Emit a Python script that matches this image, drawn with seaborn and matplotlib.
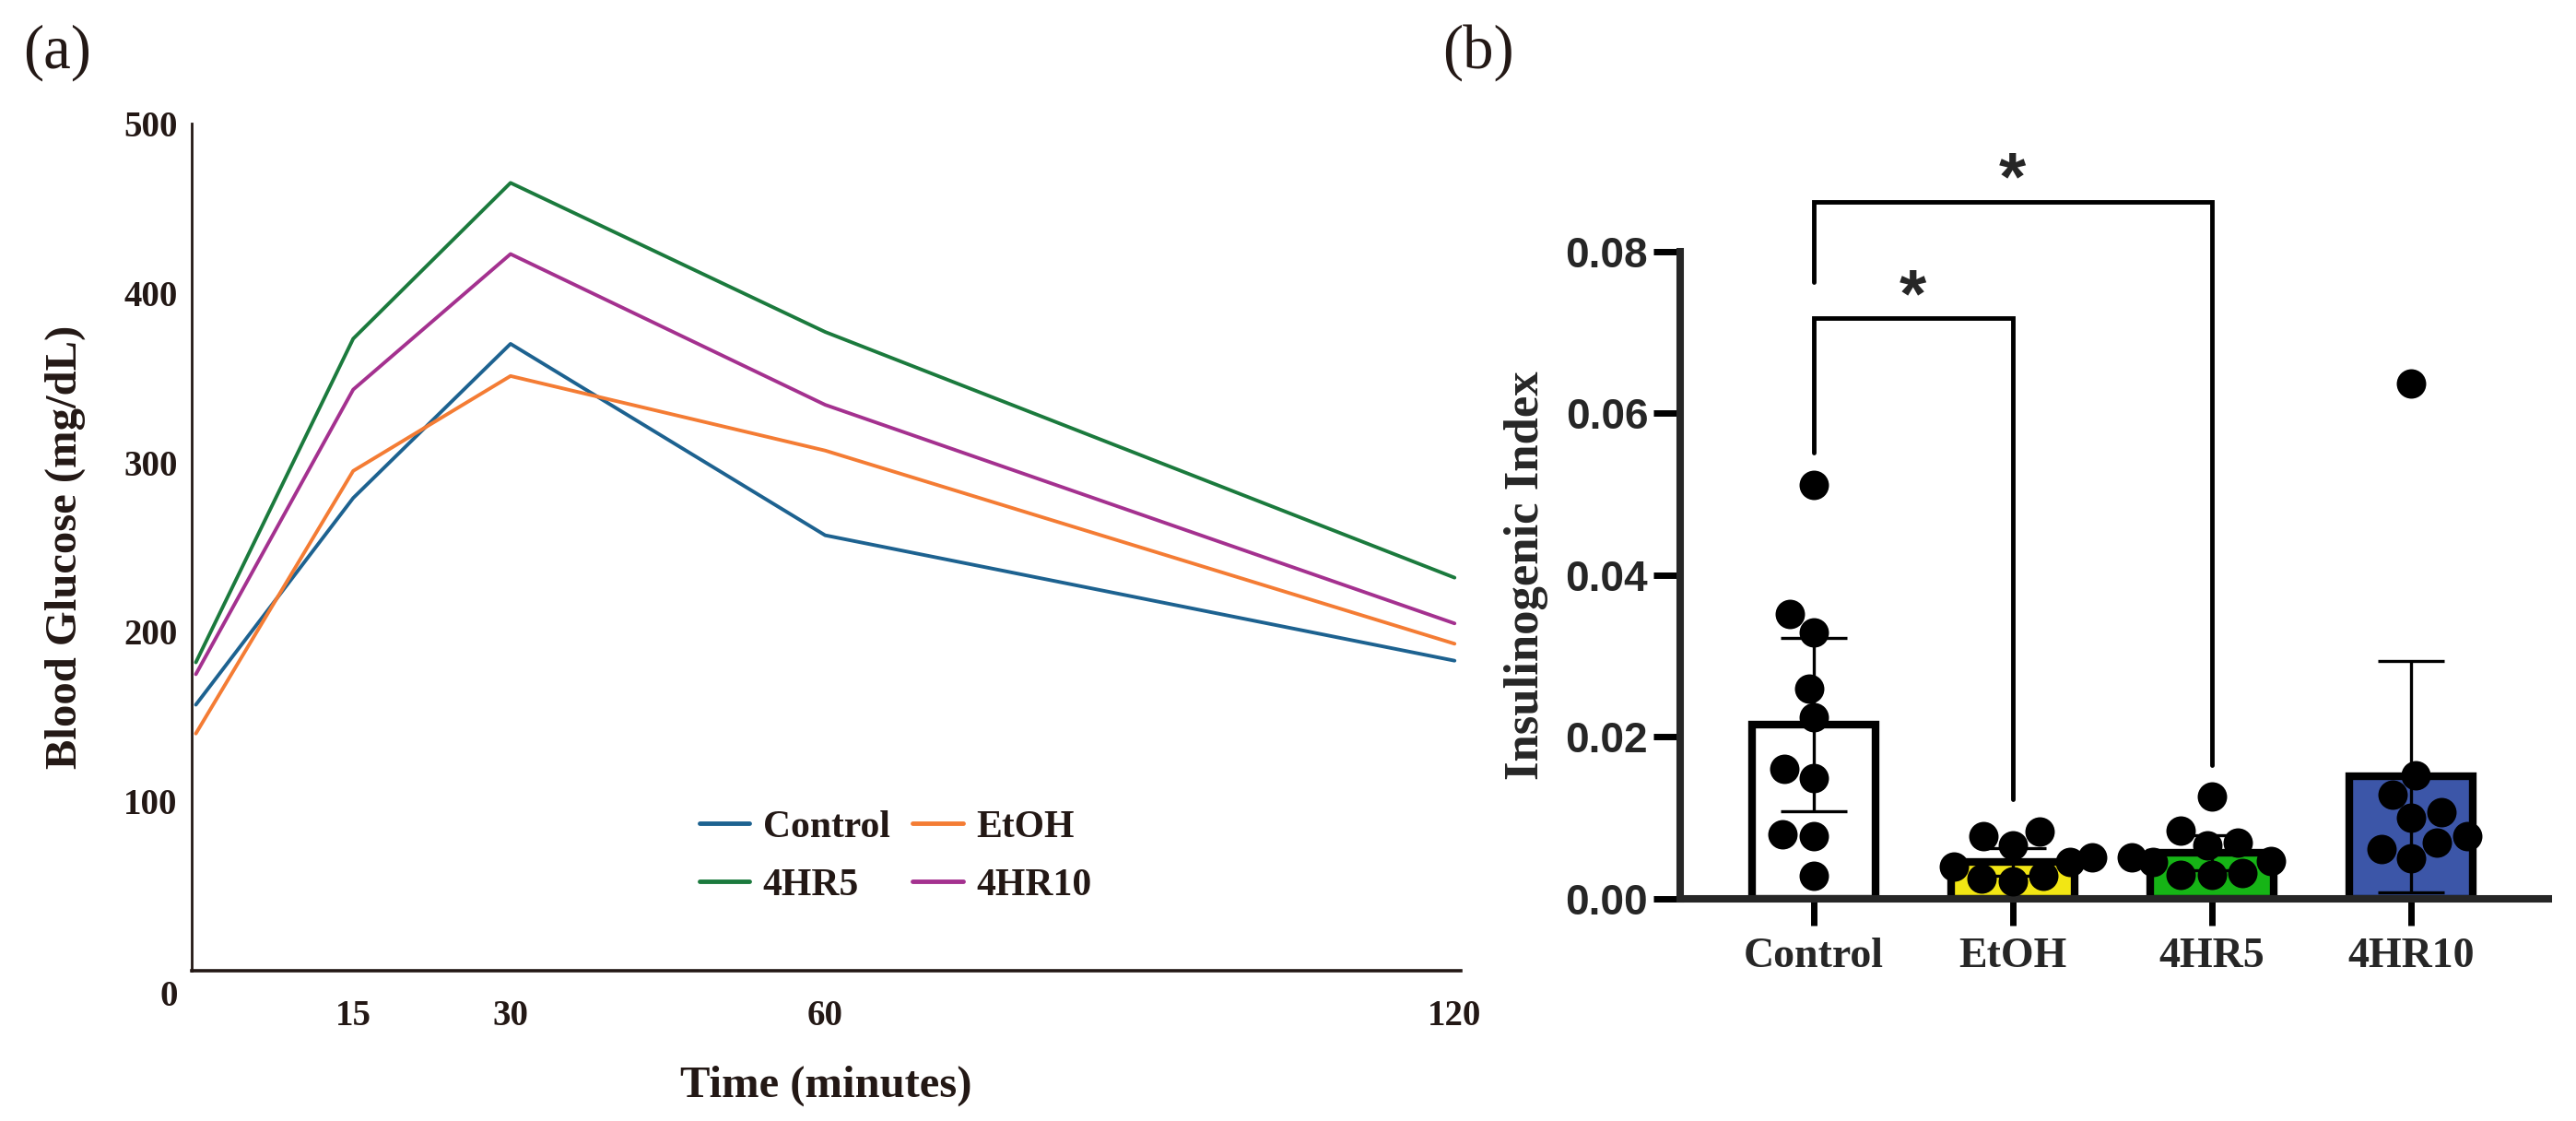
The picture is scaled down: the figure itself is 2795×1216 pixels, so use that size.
import numpy as np
import pandas as pd
import seaborn as sns
import matplotlib.pyplot as plt
from matplotlib.transforms import ScaledTranslation

# ---- (a) oral glucose tolerance curves ----
times = [0, 15, 30, 60, 120]
groups = ['Control', 'EtOH', '4HR5', '4HR10']
glucose_control = [157, 279, 370, 257, 183]
glucose_etoh = [140, 295, 351, 307, 193]
glucose_4hr5 = [182, 373, 465, 377, 232]
glucose_4hr10 = [175, 343, 423, 334, 205]
line_colors = ['#1d6290', '#f47c34', '#1b7a3d', '#a4318f']

# ---- (b) insulinogenic index ----
index_means = [0.0215, 0.0046, 0.0057, 0.0151]
index_sd = [0.0107, 0.0017, 0.0022, 0.0143]
pts_control = [0.0512, 0.0352, 0.0329, 0.0260, 0.0224, 0.0161, 0.0149, 0.0080, 0.0078, 0.0028]
pts_etoh = [0.0083, 0.0077, 0.0066, 0.0051, 0.0046, 0.0040, 0.0028, 0.0025, 0.0022]
pts_4hr5 = [0.0126, 0.0084, 0.0070, 0.0066, 0.0051, 0.0047, 0.0046, 0.0032, 0.0030, 0.0030]
pts_4hr10 = [0.0637, 0.0153, 0.0129, 0.0107, 0.0100, 0.0077, 0.0070, 0.0062, 0.0050]
bar_colors = ['#ffffff', '#f2e614', '#16b416', '#3c56a8']

# significance brackets: (left group, right group, left leg start, top, right leg start)
brackets = [(0, 1, 0.0552, 0.0718, 0.0123), (0, 2, 0.0762, 0.0862, 0.0165)]
star_y = [0.0742, 0.0887]

ink = '#231815'

sns.set_style('ticks')
plt.rcParams['font.family'] = ['Liberation Serif', 'DejaVu Serif']
plt.rcParams['font.weight'] = 'bold'
plt.rcParams['axes.labelweight'] = 'bold'

df_a = pd.DataFrame({
    'time': times * 4,
    'glucose': glucose_control + glucose_etoh + glucose_4hr5 + glucose_4hr10,
    'group': [g for g in groups for _ in times],
})
df_b = pd.DataFrame({
    'group': ['Control'] * len(pts_control) + ['EtOH'] * len(pts_etoh)
             + ['4HR5'] * len(pts_4hr5) + ['4HR10'] * len(pts_4hr10),
    'value': pts_control + pts_etoh + pts_4hr5 + pts_4hr10,
})

fig = plt.figure(figsize=(27.95, 12.16), dpi=100)
ax1 = fig.add_axes([0.0744, 0.134, 0.4927, 0.7558])
ax2 = fig.add_axes([0.6522, 0.1982, 0.337, 0.5773])

# ---------- panel (a) ----------
sns.lineplot(data=df_a, x='time', y='glucose', hue='group', hue_order=groups,
             palette=dict(zip(groups, line_colors)), linewidth=2.8, ax=ax1)
ax1.set_xlim(-0.4, 120.6)
ax1.set_ylim(0, 500)
ax1.set_xticks([15, 30, 60, 120])
ax1.set_yticks([0, 100, 200, 300, 400, 500])
ax1.tick_params(length=0, labelsize=28, labelcolor=ink)
ax1.tick_params(axis='x', pad=22)
ax1.tick_params(axis='y', pad=11)
lab0 = ax1.get_yticklabels()[0]
lab0.set_transform(lab0.get_transform() + ScaledTranslation(0, -0.24, fig.dpi_scale_trans))
sns.despine(ax=ax1)
for s in ['left', 'bottom']:
    ax1.spines[s].set_color(ink)
ax1.spines['left'].set_linewidth(2.0)
ax1.spines['bottom'].set_linewidth(2.6)
ax1.set_xlabel('Time (minutes)', fontsize=35, color=ink, labelpad=25)
ax1.set_ylabel('Blood Glucose (mg/dL)', fontsize=35, color=ink, labelpad=30)

h, l = ax1.get_legend_handles_labels()
order = [0, 2, 1, 3]
leg = ax1.legend([h[i] for i in order], [l[i] for i in order], loc='upper left',
                 bbox_to_anchor=(0.40, 0.19), ncol=2, frameon=False, fontsize=30,
                 handlelength=1.3, handletextpad=0.35, columnspacing=0.6,
                 labelspacing=0.6, borderaxespad=0, borderpad=0)
for line in leg.get_lines():
    line.set_linewidth(3.5)
for t in leg.get_texts():
    t.set_color(ink)

# ---------- panel (b) ----------
sns.barplot(x=groups, y=index_means, hue=groups, palette=bar_colors, legend=False,
            saturation=1, width=0.62, edgecolor='black', linewidth=6,
            errorbar=None, ax=ax2, zorder=1)
ax2.errorbar(groups, index_means, yerr=index_sd, fmt='none', ecolor='black',
             elinewidth=2.4, capsize=26, capthick=2.4, zorder=2)
sns.swarmplot(data=df_b, x='group', y='value', order=groups, color='black',
              size=23, ax=ax2, zorder=3)

for (g1, g2, y1, ytop, y2), sy in zip(brackets, star_y):
    ax2.plot([g1, g1, g2, g2], [y1, ytop, ytop, y2], color='black', lw=3.5,
             clip_on=False, solid_joinstyle='miter', zorder=4)
    ax2.text((g1 + g2) / 2, sy, '*', ha='center', va='center', fontsize=54,
             family='Liberation Sans', fontweight='bold', clip_on=False)

ax2.set_xlim(-0.671, 3.69)
ax2.set_ylim(0, 0.08)
yt = [0, 0.02, 0.04, 0.06, 0.08]
ax2.set_yticks(yt, labels=[f'{v:.2f}' for v in yt], fontfamily='Liberation Sans',
               fontweight='bold', fontsize=33)
ax2.tick_params(width=5, length=21, color='black')
ax2.tick_params(axis='x', labelsize=33, pad=9)
ax2.tick_params(axis='y', pad=4)
sns.despine(ax=ax2)
for s in ['left', 'bottom']:
    ax2.spines[s].set_linewidth(5.8)
ax2.set_xlabel('')
ax2.set_ylabel('Insulinogenic Index', fontsize=38, labelpad=13)

fig.text(0.009, 0.953, '(a)', fontsize=48, fontweight='normal', va='center', color=ink)
fig.text(0.560, 0.953, '(b)', fontsize=48, fontweight='normal', va='center', color=ink)

fig.savefig('out.png', dpi=100)
